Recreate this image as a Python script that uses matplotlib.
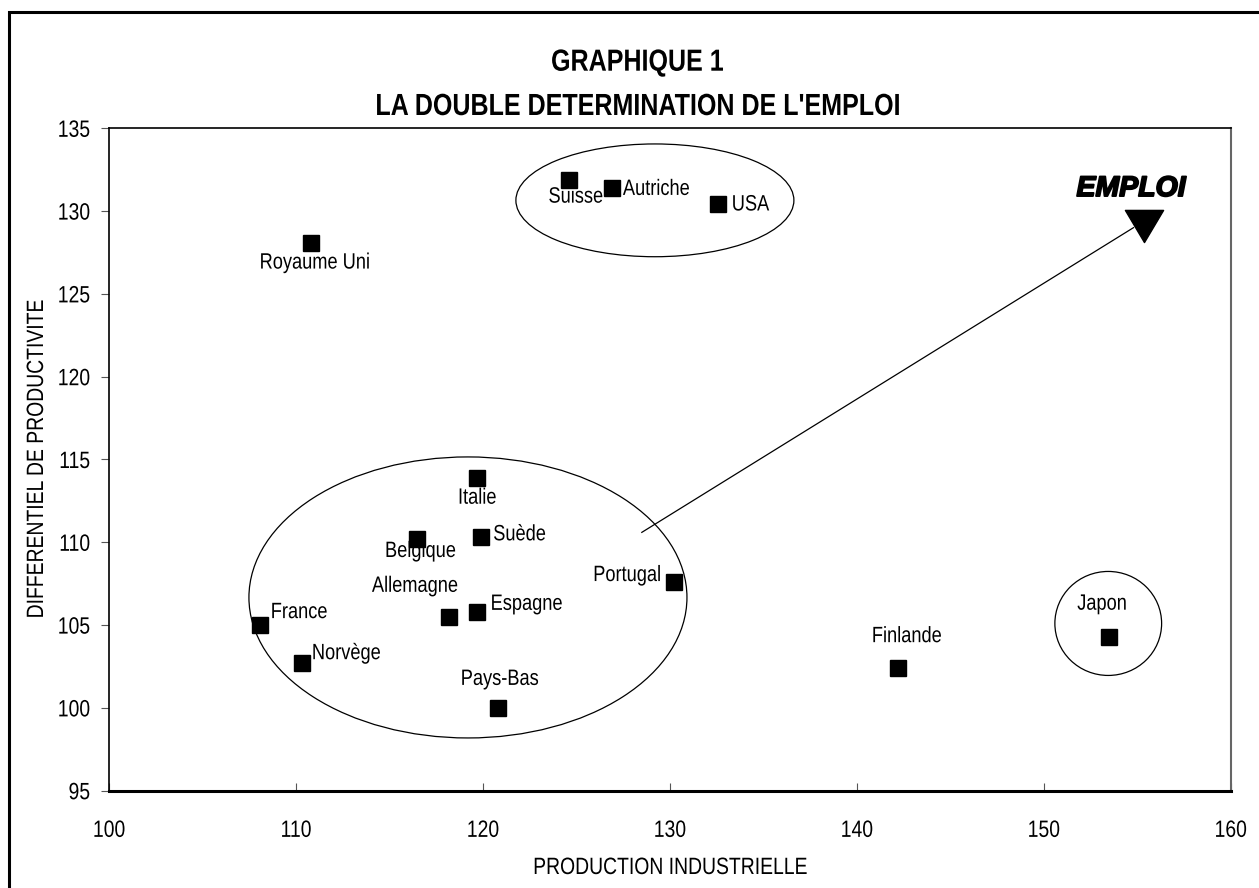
import matplotlib
matplotlib.use("Agg")
import matplotlib.pyplot as plt
from matplotlib.patches import Ellipse, Rectangle
from matplotlib.path import Path
from matplotlib.patheffects import AbstractPathEffect, withStroke
from matplotlib.transforms import Affine2D

# --- data -------------------------------------------------------------------
countries = ["Royaume Uni", "Suisse", "Autriche", "USA", "Italie", "Belgique",
             "Suède", "Portugal", "Allemagne", "Espagne", "France", "Norvège",
             "Pays-Bas", "Finlande", "Japon"]
production = [110.8, 124.6, 126.9, 132.6, 119.7, 116.5,
              119.9, 130.2, 118.2, 119.7, 108.1, 110.3,
              120.8, 142.2, 153.5]
productivite = [128.1, 131.9, 131.4, 130.4, 113.9, 110.2,
                110.3, 107.6, 105.5, 105.8, 105.0, 102.7,
                100.0, 102.4, 104.3]
x_ticks = [100, 110, 120, 130, 140, 150, 160]
y_ticks = [95, 100, 105, 110, 115, 120, 125, 130, 135]

# label placement: (ha, dx, dy) in pixels relative to the marker, baseline anchored
label_pos = {
    "Royaume Uni": ("center", 4, -26),
    "Suisse": ("center", 7, -23),
    "Autriche": ("left", 11, -7),
    "USA": ("left", 13, -6),
    "Italie": ("center", 0, -26),
    "Belgique": ("center", 3, -18),
    "Suède": ("left", 12, -3),
    "Portugal": ("right", -12, 1),
    "Allemagne": ("center", -34, 25),
    "Espagne": ("left", 13, 2),
    "France": ("left", 10, 7),
    "Norvège": ("left", 10, 4),
    "Pays-Bas": ("center", 2, 23),
    "Finlande": ("center", 9, 26),
    "Japon": ("center", -7, 27),
}


class Narrow(AbstractPathEffect):
    """Horizontally condense a text path around its alignment point."""

    def __init__(self, factor=0.82, align=0.0):
        super().__init__()
        self.factor = factor
        self.align = align

    def draw_path(self, renderer, gc, tpath, affine, rgbFace=None):
        ext = tpath.get_extents()
        c = ext.x0 + self.align * (ext.x1 - ext.x0)
        squeeze = Affine2D().translate(-c, 0).scale(self.factor, 1).translate(c, 0)
        renderer.draw_path(gc, tpath, squeeze + affine, rgbFace)


ALIGN = {"left": 0.0, "center": 0.5, "right": 1.0}

plt.rcParams["font.family"] = ["Liberation Sans", "DejaVu Sans"]

fig = plt.figure(figsize=(12.59, 8.88), dpi=100)
ax = fig.add_axes([109 / 1259, 1 - 790.7 / 888, (1230.7 - 109) / 1259, (790.7 - 128.3) / 888])

ax.set_xlim(100, 160)
ax.set_ylim(95, 135)
ax.set_xticks(x_ticks)
ax.set_yticks(y_ticks)
ax.tick_params(axis="x", direction="in", length=6, width=0.8, color="#555555",
               pad=21, labelsize=17)
ax.tick_params(axis="y", direction="out", length=6, width=0.8, color="#555555",
               pad=7.5, labelsize=17)
for lbl in ax.get_xticklabels():
    lbl.set_path_effects([Narrow(align=0.5)])
for lbl in ax.get_yticklabels():
    lbl.set_path_effects([Narrow(align=1.0)])

for side, lw, col in [("left", 1.2, "black"), ("top", 1.2, "black"),
                      ("right", 1.5, "#666666"), ("bottom", 2.2, "black")]:
    ax.spines[side].set_linewidth(lw)
    ax.spines[side].set_color(col)

ax.set_xlabel("PRODUCTION INDUSTRIELLE", fontsize=17, va="baseline",
              path_effects=[Narrow(align=0.5)])
ax.xaxis.set_label_coords(0.5, (790.7 - 874) / 662.4)
ax.set_ylabel("DIFFERENTIEL DE PRODUCTIVITE", fontsize=17, va="center",
              path_effects=[Narrow(align=0.5)])
ax.yaxis.set_label_coords((37 - 109) / 1121.7, 0.5)

# scatter points
ax.plot(production, productivite, linestyle="none", marker="s", markersize=11,
        color="black", zorder=5)

for name, x, y in zip(countries, production, productivite):
    ha, dx, dy = label_pos[name]
    ax.annotate(name, (x, y), xytext=(dx, dy), textcoords="offset pixels",
                ha=ha, va="baseline", fontsize=16, zorder=3,
                path_effects=[Narrow(align=ALIGN[ha])])

# groupings
for (cx, cy, w, h) in [(129.2, 130.65, 14.87, 6.81),
                       (119.2, 106.67, 23.43, 16.97),
                       (153.45, 105.1, 5.71, 6.28)]:
    ax.add_patch(Ellipse((cx, cy), w, h, fill=False, edgecolor="black",
                         linewidth=0.9, zorder=2))

# employment arrow
ax.plot([128.5, 154.8], [110.6, 129.0], color="black", linewidth=0.9, zorder=4)
tri = Path([(-19, 16), (19, 16), (0, -16), (-19, 16)],
           [Path.MOVETO, Path.LINETO, Path.LINETO, Path.CLOSEPOLY])
ax.plot([155.36], [129.12], marker=tri, markersize=27.5, color="black",
        linestyle="none", zorder=6)
ax.text(154.67, 131.33, "EMPLOI", ha="center", va="center", fontsize=20.5,
        fontweight="bold", fontstyle="italic",
        path_effects=[withStroke(linewidth=1.3, foreground="black")])

# title
fig.text(637 / 1259, 1 - 70.7 / 888, "GRAPHIQUE 1", ha="center", va="baseline",
         fontsize=22, fontweight="bold", path_effects=[Narrow(align=0.5)])
fig.text(637 / 1259, 1 - 115 / 888, "LA DOUBLE DETERMINATION DE L'EMPLOI",
         ha="center", va="baseline", fontsize=22, fontweight="bold",
         path_effects=[Narrow(align=0.5)])

# outer frame
fig.add_artist(Rectangle((8.5 / 1259, -0.1), 1.2, 1.1 - 12.5 / 888,
                         transform=fig.transFigure, fill=False,
                         edgecolor="black", linewidth=2.2, clip_on=False))

fig.savefig("out.png", dpi=100)
